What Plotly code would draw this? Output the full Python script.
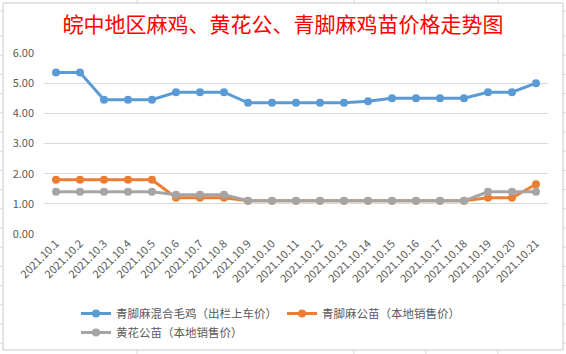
import plotly.graph_objects as go

dates = ["2021.10.%d" % d for d in range(1, 22)]
qjm_mixed = [5.35, 5.35, 4.45, 4.45, 4.45, 4.7, 4.7, 4.7, 4.35, 4.35, 4.35, 4.35, 4.35,
             4.4, 4.5, 4.5, 4.5, 4.5, 4.7, 4.7, 5.0]
qjm_rooster = [1.8, 1.8, 1.8, 1.8, 1.8, 1.2, 1.2, 1.2, 1.1, 1.1, 1.1, 1.1, 1.1,
               1.1, 1.1, 1.1, 1.1, 1.1, 1.2, 1.2, 1.65]
hh_rooster = [1.4, 1.4, 1.4, 1.4, 1.4, 1.3, 1.3, 1.3, 1.1, 1.1, 1.1, 1.1, 1.1,
              1.1, 1.1, 1.1, 1.1, 1.1, 1.4, 1.4, 1.4]
names = ["青脚麻混合毛鸡（出栏上车价）", "青脚麻公苗（本地销售价）", "黄花公苗（本地销售价）"]
colors = ["#5B9BD5", "#ED7D31", "#A5A5A5"]
yticks = [0, 1, 2, 3, 4, 5, 6]

W, H = 566, 354
L, R, T, B = 44, 18, 53, 120
PW, PH = W - L - R, H - T - B

fig = go.Figure()
for vals, nm, c in [(qjm_mixed, names[0], colors[0]), (qjm_rooster, names[1], colors[1]),
                    (hh_rooster, names[2], colors[2])]:
    fig.add_trace(go.Scatter(x=dates, y=vals, name=nm, mode="lines+markers",
                             line=dict(color=c, width=3), marker=dict(color=c, size=8)))

def px(x):
    return (x - L) / PW

def py(y):
    return (H - B - y) / PH

shapes = []
grid = "#D9D9D9"
# spreadsheet grid lines peeking out around the chart
for xv in [137, 354, 426, 498]:
    shapes.append(dict(type="line", xref="paper", yref="paper", x0=px(xv), x1=px(xv),
                       y0=py(0), y1=py(3), line=dict(color=grid, width=1)))
    shapes.append(dict(type="line", xref="paper", yref="paper", x0=px(xv), x1=px(xv),
                       y0=py(350), y1=py(354), line=dict(color=grid, width=1)))
rows = [11] + [36 + 19.2 * k for k in range(17)]
for yv in rows:
    if yv < 352:
        shapes.append(dict(type="line", xref="paper", yref="paper", x0=px(0), x1=px(3),
                           y0=py(yv), y1=py(yv), line=dict(color=grid, width=1)))
        shapes.append(dict(type="line", xref="paper", yref="paper", x0=px(563), x1=px(566),
                           y0=py(yv), y1=py(yv), line=dict(color=grid, width=1)))
# chart border
shapes.append(dict(type="rect", xref="paper", yref="paper", x0=px(3), x1=px(563),
                   y0=py(350), y1=py(3), line=dict(color="#C8C8C8", width=1)))

fig.update_layout(
    width=W, height=H,
    margin=dict(l=L, r=R, t=T, b=B, autoexpand=False),
    paper_bgcolor="white", plot_bgcolor="white",
    font=dict(family="Noto Sans CJK SC", color="#595959"),
    title=dict(text="皖中地区麻鸡、黄花公、青脚麻鸡苗价格走势图", x=0.5, xref="container",
               y=1 - 25 / H, yanchor="middle", xanchor="center",
               font=dict(size=21, color="#FF0000", family="Noto Sans CJK SC")),
    xaxis=dict(type="category", range=[-0.5, len(dates) - 0.5], tickangle=-45,
               tickfont=dict(size=11, color="#595959"), automargin=False,
               showgrid=False, showline=False, ticks="", zeroline=False),
    yaxis=dict(range=[0, 6], tickvals=yticks, tickformat=".2f", showgrid=True, gridcolor=grid,
               gridwidth=1, zeroline=False, showline=False, ticklabelstandoff=9,
               automargin=False, tickfont=dict(size=11, color="#595959")),
    showlegend=True,
    legend=dict(orientation="h", x=px(76), xanchor="left", y=py(299), yanchor="top",
                font=dict(size=11.5, color="#595959"), tracegroupgap=0,
                bgcolor="rgba(0,0,0,0)"),
    shapes=shapes,
)

fig.write_html("out.html")
